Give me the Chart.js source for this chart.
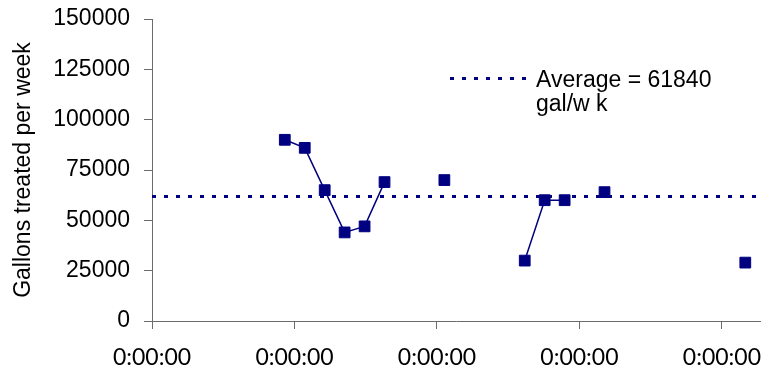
<!DOCTYPE html>
<html>
<head>
<meta charset="utf-8">
<script src="https://cdn.jsdelivr.net/npm/chart.js@4/dist/chart.umd.min.js"></script>
<style>
  html, body { margin: 0; padding: 0; background: #ffffff; }
  #wrap { width: 769px; height: 372px; }
</style>
</head>
<body>
<div id="wrap"><canvas id="c" width="769" height="372"></canvas></div>
<script>
// Days since the start of the period for each weekly reading
const dayOffsets = [46.6, 53.6, 60.6, 67.6, 74.6, 81.6, 102.6, 130.8, 137.8, 144.8, 158.8, 208.2];
// Gallons treated in each of those weeks
const gallonsPerWeek = [90000, 86000, 65000, 44000, 47000, 69000, 70000, 30000, 60000, 60000, 64000, 29000];
// Mean weekly volume
const averageGallons = 61840;
const averageLines = ['Average = ' + averageGallons, 'gal/w k'];
// Axis ticks
const xTickValues = [0, 50, 100, 150, 200];
const xTickLabels = ['0:00:00', '0:00:00', '0:00:00', '0:00:00', '0:00:00'];
const xRange = [0, 213.5];
const yRange = [0, 150000];
const yStep = 25000;

const NAVY = '#000080';
const AXIS = '#6b6b6b';

// Weeks that are not consecutive are separated by an empty point so the line breaks
const weeklyPoints = [];
dayOffsets.forEach((d, i) => {
  if (i > 0 && d - dayOffsets[i - 1] > 7.5) {
    weeklyPoints.push({ x: (d + dayOffsets[i - 1]) / 2, y: null });
  }
  weeklyPoints.push({ x: d, y: gallonsPerWeek[i] });
});

// Legend for the average line, drawn in the upper right of the plot
const averageLegend = {
  id: 'averageLegend',
  afterDraw(chart) {
    const ds = chart.data.datasets[1];
    const ctx = chart.ctx;
    ctx.save();
    ctx.strokeStyle = ds.borderColor;
    ctx.lineWidth = ds.borderWidth;
    ctx.setLineDash(ds.borderDash);
    ctx.beginPath();
    ctx.moveTo(450, 78.5);
    ctx.lineTo(528, 78.5);
    ctx.stroke();
    ctx.setLineDash([]);
    ctx.fillStyle = '#000000';
    ctx.font = '23px "Liberation Sans", Arial, sans-serif';
    ctx.textBaseline = 'alphabetic';
    ctx.textAlign = 'left';
    averageLines.forEach((t, i) => ctx.fillText(t, 536, 87 + i * 24));
    ctx.restore();
  }
};

new Chart(document.getElementById('c'), {
  type: 'scatter',
  data: {
    datasets: [
      {
        label: 'Gallons treated per week',
        data: weeklyPoints,
        showLine: true,
        spanGaps: false,
        borderColor: NAVY,
        borderWidth: 1.5,
        backgroundColor: NAVY,
        pointStyle: 'rect',
        pointRadius: 7.6,
        pointBorderWidth: 1,
        pointBorderColor: NAVY,
        pointBackgroundColor: NAVY,
        tension: 0
      },
      {
        label: averageLines.join(' '),
        data: [{ x: xRange[0], y: averageGallons }, { x: xRange[1], y: averageGallons }],
        showLine: true,
        borderColor: NAVY,
        borderWidth: 3,
        borderDash: [4, 8],
        borderCapStyle: 'butt',
        pointRadius: 0,
        fill: false
      }
    ]
  },
  options: {
    responsive: false,
    animation: false,
    devicePixelRatio: 1,
    layout: { padding: { top: 19, right: 7, left: 0, bottom: 0 } },
    plugins: {
      legend: { display: false },
      tooltip: { enabled: false }
    },
    scales: {
      x: {
        type: 'linear',
        min: xRange[0],
        max: xRange[1],
        afterBuildTicks: (scale) => { scale.ticks = xTickValues.map(v => ({ value: v })); },
        afterFit: (scale) => {
          scale.height = 51;
          scale.paddingLeft = 0;
          scale.paddingRight = 0;
        },
        ticks: {
          callback: (v, i) => xTickLabels[i],
          color: '#000000',
          font: { family: 'Lato, "Liberation Sans", sans-serif', size: 23 },
          padding: 15,
          maxRotation: 0,
          autoSkip: false
        },
        grid: {
          display: true,
          drawOnChartArea: false,
          drawTicks: true,
          tickLength: 8,
          color: AXIS
        },
        border: { display: true, color: AXIS, width: 1 }
      },
      y: {
        min: yRange[0],
        max: yRange[1],
        afterFit: (scale) => {
          scale.width = 152;
          scale.paddingTop = 0;
          scale.paddingBottom = 0;
        },
        ticks: {
          stepSize: yStep,
          callback: (v) => String(v),
          color: '#000000',
          font: { family: '"Liberation Sans", Arial, sans-serif', size: 23 },
          padding: 14
        },
        grid: {
          display: true,
          drawOnChartArea: false,
          drawTicks: true,
          tickLength: 8,
          color: AXIS
        },
        border: { display: true, color: AXIS, width: 1 },
        title: {
          display: true,
          text: 'Gallons treated per week',
          color: '#000000',
          font: { family: '"Liberation Sans", Arial, sans-serif', size: 23 },
          padding: { top: 10, bottom: 4 }
        }
      }
    }
  },
  plugins: [averageLegend]
});
</script>
</body>
</html>
